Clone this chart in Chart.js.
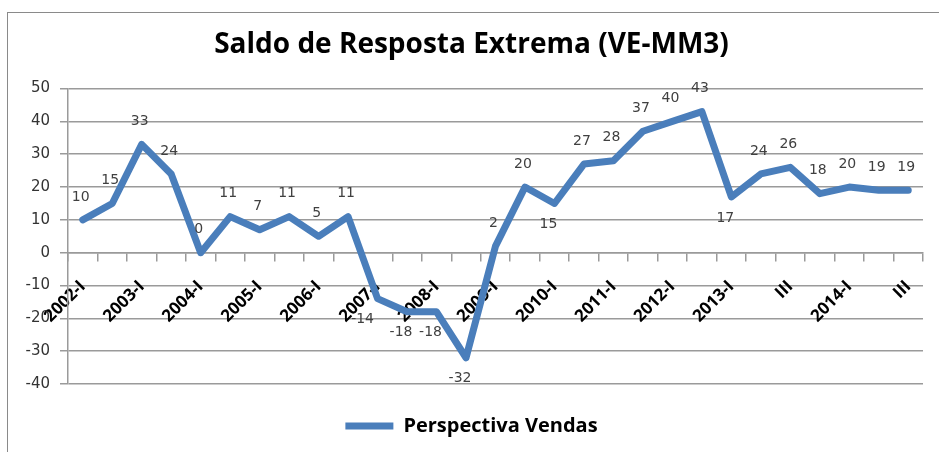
<!DOCTYPE html>
<html>
<head>
<meta charset="utf-8">
<script src="https://cdn.jsdelivr.net/npm/chart.js@4.4.1/dist/chart.umd.min.js"></script>
<style>
  html, body { margin: 0; padding: 0; background: #fff; overflow: hidden; }
  #wrap { position: relative; width: 939px; height: 452px; }
  #frame { position: absolute; left: 7px; top: 12px; width: 1000px; height: 500px;
           border-left: 1.5px solid #8a8a8a; border-top: 1.5px solid #8a8a8a; }
  canvas { position: absolute; left: 0; top: 0; }
</style>
</head>
<body>
<div id="wrap">
  <div id="frame"></div>
  <canvas id="chart" width="939" height="452"></canvas>
</div>
<script>
// semesters up to 2012, quarters from 2013
const periods = [
  '2002-I', 'II', '2003-I', 'II', '2004-I', 'II', '2005-I', 'II', '2006-I', 'II',
  '2007-I', 'II', '2008-I', 'II', '2009-I', 'II', '2010-I', 'II', '2011-I', 'II',
  '2012-I', 'II', '2013-I', 'II', 'III', 'IV', '2014-I', 'II', 'III'
];
const saldo = [
  10, 15, 33, 24, 0, 11, 7, 11, 5, 11,
  -14, -18, -18, -32, 2, 20, 15, 27, 28, 37,
  40, 43, 17, 24, 26, 18, 20, 19, 19
];
const yTicks = [-40, -30, -20, -10, 0, 10, 20, 30, 40, 50];

const blue = '#4a7ebb';
const gridGray = '#9a9a9a';

// points whose value label sits under the line
const labelsBelow = [10, 11, 12, 13, 16, 22];

const valueLabels = {
  id: 'valueLabels',
  afterDatasetsDraw(chart) {
    const ctx = chart.ctx;
    const meta = chart.getDatasetMeta(0);
    ctx.save();
    ctx.font = '14px "DejaVu Sans", sans-serif';
    ctx.fillStyle = '#404040';
    ctx.textAlign = 'center';
    ctx.textBaseline = 'middle';
    meta.data.forEach((pt, i) => {
      const below = labelsBelow.includes(i);
      let dx = below ? -6 : -2;
      if (i === 10) dx = -15;
      const dy = below ? 21 : -23;
      ctx.fillText(String(saldo[i]), pt.x + dx, pt.y + dy);
    });
    ctx.restore();
  }
};

new Chart(document.getElementById('chart'), {
  type: 'line',
  data: {
    labels: periods,
    datasets: [{
      label: 'Perspectiva Vendas',
      data: saldo,
      borderColor: blue,
      backgroundColor: blue,
      borderWidth: 7,
      borderJoinStyle: 'round',
      borderCapStyle: 'round',
      pointRadius: 0,
      tension: 0,
      clip: false
    }]
  },
  options: {
    responsive: false,
    animation: false,
    layout: { padding: { left: 20, right: 16, top: 10, bottom: 6 } },
    plugins: {
      title: {
        display: true,
        text: 'Saldo de Resposta Extrema (VE-MM3)',
        color: '#000',
        font: { family: '"Open Sans", sans-serif', size: 28, weight: 'bold' },
        padding: { top: 18, bottom: 27 }
      },
      legend: {
        position: 'bottom',
        labels: {
          color: '#000',
          font: { family: '"Open Sans", sans-serif', size: 20, weight: 'bold' },
          usePointStyle: true,
          pointStyle: 'line',
          pointStyleWidth: 48,
          padding: 32
        }
      },
      tooltip: { enabled: false }
    },
    scales: {
      x: {
        position: { y: 0 },
        offset: true,
        grid: { drawOnChartArea: false, color: gridGray, lineWidth: 1.5, tickLength: 8, offset: true },
        border: { color: gridGray, width: 1.5 },
        ticks: {
          autoSkip: false,
          minRotation: 45,
          maxRotation: 45,
          padding: 16,
          color: '#000',
          font: { family: '"Open Sans", sans-serif', size: 17, weight: 'bold' },
          callback: function (value, index) {
            return index % 2 === 0 ? this.getLabelForValue(value) : '';
          }
        }
      },
      y: {
        min: yTicks[0],
        max: yTicks[yTicks.length - 1],
        afterFit: (axis) => { axis.width = 48; },
        grid: { color: gridGray, lineWidth: 1.5, tickLength: 8 },
        border: { color: gridGray, width: 1.5 },
        ticks: {
          stepSize: 10,
          padding: 10,
          color: '#333',
          font: { family: '"DejaVu Sans", sans-serif', size: 15 }
        }
      }
    }
  },
  plugins: [valueLabels]
});
</script>
</body>
</html>
